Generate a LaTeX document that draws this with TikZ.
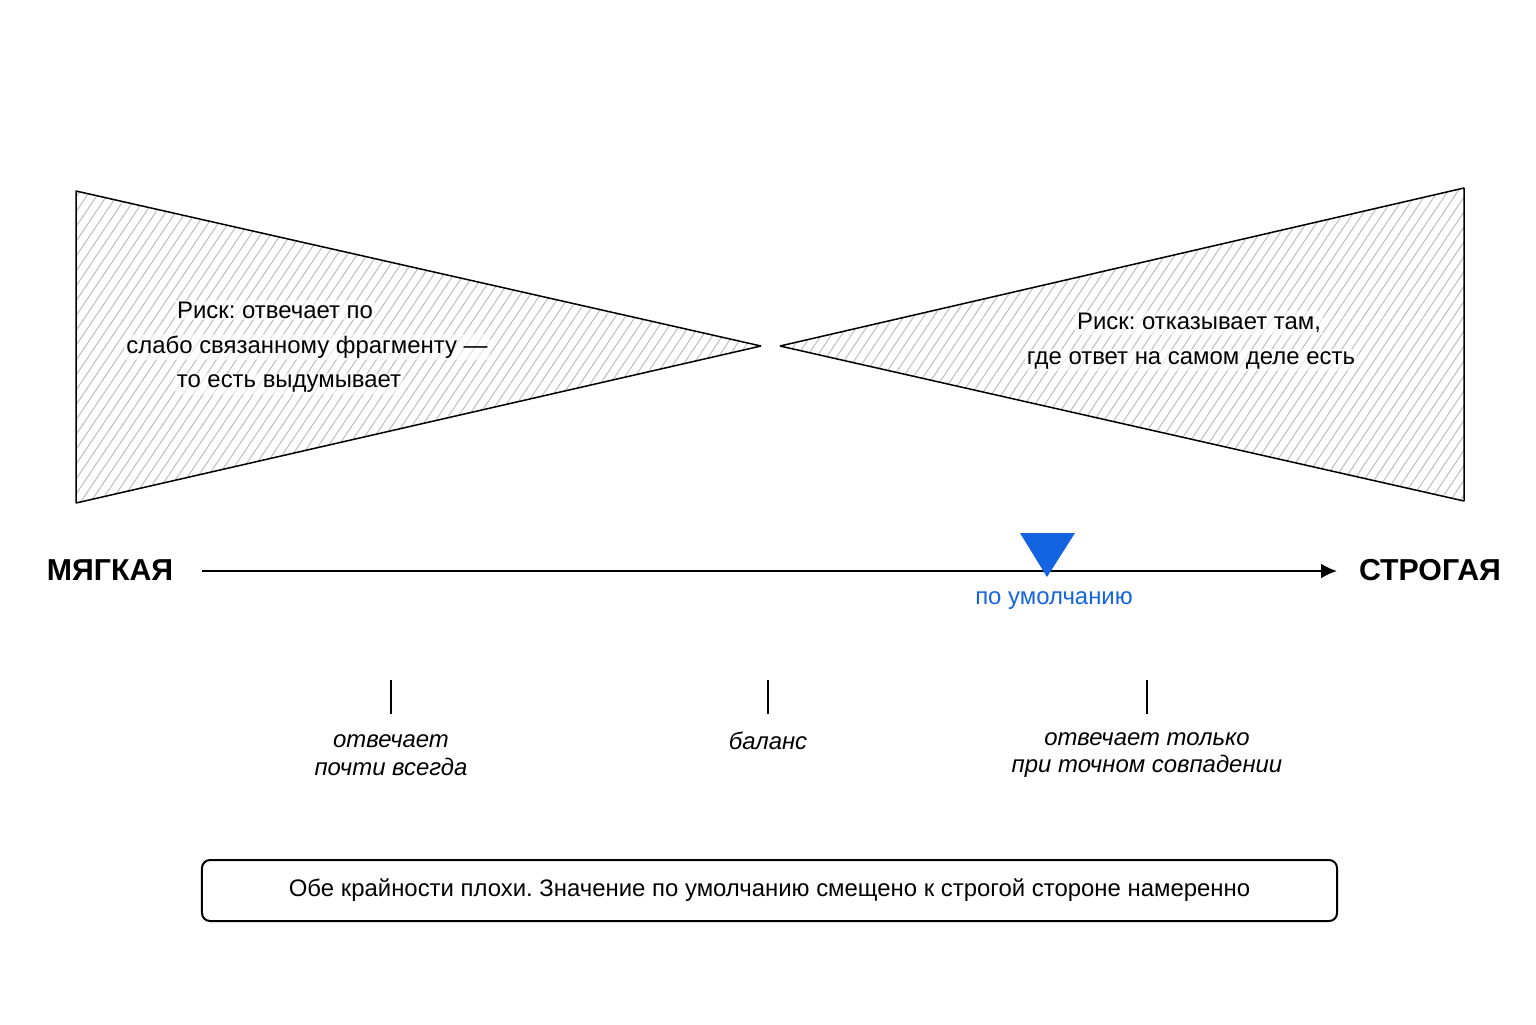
\documentclass[tikz,border=0pt]{standalone}
\usepackage{fontspec}
\setmainfont{Liberation Sans}
\usetikzlibrary{positioning,arrows.meta}
\definecolor{defblue}{HTML}{1463E0}
\definecolor{hatchcol}{HTML}{BDBDBD}
\frenchspacing
\tikzset{
  risktext/.style={font=\fontsize{12}{14}\selectfont, fill=white, fill opacity=0.6, text opacity=1, inner sep=1bp},
  endlabel/.style={font=\fontsize{15.2}{18}\selectfont\bfseries},
  ticklabel/.style={font=\fontsize{12}{14}\selectfont\itshape, align=center},
  hatchline/.style={draw=hatchcol, line width=0.5bp},
  notebox/.style={draw, line width=1bp, rounded corners=4bp, minimum width=567.5bp, minimum height=30.5bp, font=\fontsize{12}{14}\selectfont},
}
\begin{document}
\begin{tikzpicture}[>={Latex[length=8bp,width=7.5bp]}, line join=bevel, x=0.5bp, y=-0.5bp]
  \pgfsetlinewidth{0.75bp}
  \useasboundingbox (0,0) rectangle (1536,1024);
%%
  % Wedge: soft side
\begin{scope}
  \clip (76,191) -- (761,346) -- (76,503) -- cycle;
  \foreach \i in {-240,-230,...,700}
    \draw[hatchline] (\i,503) -- ++(210,-312);
\end{scope}
  \draw (76,191) -- (761,346) -- (76,503) -- cycle;
  % Wedge: strict side
\begin{scope}
  \clip (1464,188) -- (780,346) -- (1464,501) -- cycle;
  \foreach \i in {540,550,...,1480}
    \draw[hatchline] (\i,501) -- ++(210,-313);
\end{scope}
  \draw (1464,188) -- (780,346) -- (1464,501) -- cycle;
  % Node: risk texts
  \node[risktext] (riskA1) at (275,310) {Риск: отвечает по};
  \node[risktext] (riskA2) at (307,347) {слабо связанному фрагменту —};
  \node[risktext] (riskA3) at (289,384) {то есть выдумывает};
  \node[risktext] (riskB1) at (1199,323) {Риск: отказывает там,};
  \node[risktext] (riskB2) at (1191,360) {где ответ на самом деле есть};
  % Node: ends of the scale
  \node[endlabel] (soft) at (110,570) {МЯГКАЯ};
  \node[endlabel] (strict) at (1430,570) {СТРОГАЯ};
  % Edge: soft -> strict
  \coordinate (axL) at (202,571);
  \coordinate (axR) at (1337,571);
  \draw [->, line width=1bp] (axL) -- (axR);
  % Node: default marker
  \coordinate (dflt) at (1047,577);
  \fill[defblue] (1020,533) -- (1075,533) -- (dflt) -- cycle;
  \node[text=defblue, font=\fontsize{12}{14}\selectfont] (dfltlabel) at (1054,601) {по умолчанию};
  % Ticks
  \foreach \x/\n in {391/lo, 768/mid, 1147/hi}
    \draw[line width=0.75bp] (\x,680) coordinate (tick\n) -- ++(0,34);
  \node[ticklabel] (labello) at (391,755) {отвечает\\почти всегда};
  \node[ticklabel] (labelmid) at (768,741) {баланс};
  \node[ticklabel] (labelhi) at (1147,755) {отвечает только\\при точном совпадении};
  % Node: note
  \node[notebox] (note) at (769.5,890.5) {Обе крайности плохи. Значение по умолчанию смещено к строгой стороне намеренно};
%
\end{tikzpicture}
\end{document}
